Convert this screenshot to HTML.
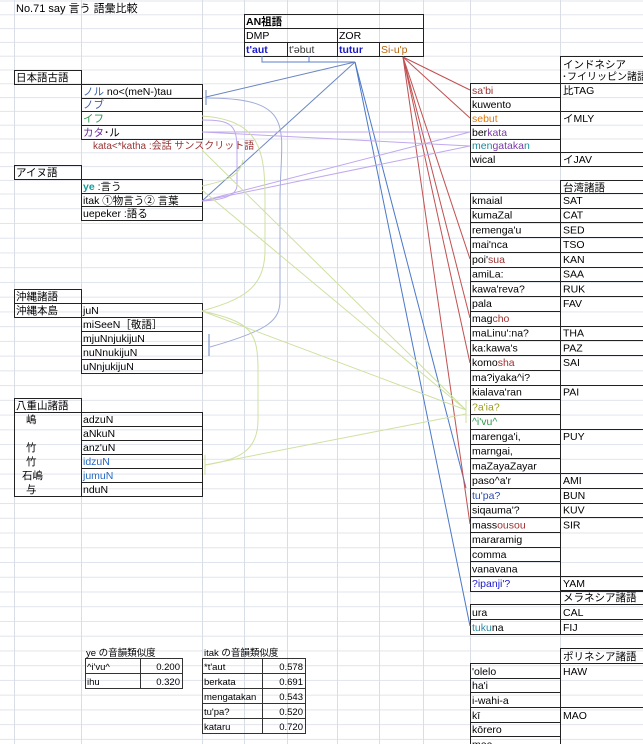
<!DOCTYPE html>
<html><head><meta charset="utf-8"><style>
html,body{margin:0;padding:0;background:#fff;}
svg{display:block;font-family:"Liberation Sans","Noto Sans CJK JP",sans-serif;}
</style></head><body>
<svg width="643" height="744" viewBox="0 0 643 744" xmlns="http://www.w3.org/2000/svg">
<defs>
<pattern id="hp" x="0" y="193.5" width="643" height="14.74" patternUnits="userSpaceOnUse">
<line x1="0" y1="0.5" x2="643" y2="0.5" stroke="#e0e4ec" stroke-width="1"/>
</pattern>
<pattern id="hp2" x="0" y="0.5" width="643" height="13.8" patternUnits="userSpaceOnUse">
<line x1="0" y1="0.5" x2="643" y2="0.5" stroke="#e0e4ec" stroke-width="1"/>
</pattern>
</defs>
<rect x="0" y="0" width="643" height="186" fill="url(#hp2)"/>
<rect x="0" y="186" width="643" height="558" fill="url(#hp)"/>
<g stroke="#d8dde6" stroke-width="1">
<line x1="14.5" y1="0" x2="14.5" y2="744"/><line x1="81.5" y1="0" x2="81.5" y2="744"/><line x1="202.5" y1="0" x2="202.5" y2="744"/><line x1="244.5" y1="0" x2="244.5" y2="744"/><line x1="287.5" y1="0" x2="287.5" y2="744"/><line x1="337.5" y1="0" x2="337.5" y2="744"/><line x1="379.5" y1="0" x2="379.5" y2="744"/><line x1="423.5" y1="0" x2="423.5" y2="744"/><line x1="470.5" y1="0" x2="470.5" y2="744"/><line x1="560.5" y1="0" x2="560.5" y2="744"/>
</g>
<text x="16" y="12" font-size="11">No.71 say 言う 語彙比較</text>

<!-- AN table -->
<g fill="none" stroke="#222" stroke-width="1">
<rect x="244.5" y="14.5" width="179" height="42"/>
<line x1="244" y1="28.5" x2="423" y2="28.5"/><line x1="244" y1="42.5" x2="423" y2="42.5"/>
<line x1="337.5" y1="28" x2="337.5" y2="56"/><line x1="287.5" y1="42" x2="287.5" y2="56"/><line x1="379.5" y1="42" x2="379.5" y2="56"/>
</g>
<g font-size="10.5">
<text x="246" y="25" font-weight="bold">AN祖語</text><text x="246" y="39">DMP</text><text x="339" y="39">ZOR</text>
<text x="246" y="53" fill="#1a1acc" font-weight="bold">t'aut</text><text x="289" y="53" fill="#333">t'əbut</text>
<text x="339" y="53" fill="#1a1acc" font-weight="bold">tutur</text><text x="381" y="53" fill="#b8660e">Si-u'p</text>
</g>

<!-- Japanese -->
<g fill="none" stroke="#222">
<rect x="14.5" y="70.5" width="67" height="14"/>
<rect x="81.5" y="84.5" width="121" height="55"/>
<line x1="81" y1="98.5" x2="202" y2="98.5"/><line x1="81" y1="111.5" x2="202" y2="111.5"/><line x1="81" y1="125.5" x2="202" y2="125.5"/>
<rect x="14.5" y="165.5" width="67" height="14"/>
<rect x="81.5" y="179.5" width="121" height="41"/>
<line x1="81" y1="193.5" x2="202" y2="193.5"/><line x1="81" y1="206.5" x2="202" y2="206.5"/>
</g>
<g font-size="10.5">
<text x="16" y="81">日本語古語</text>
<text x="83" y="95"><tspan fill="#3a5ea8">ノル</tspan>   no&lt;(meN-)tau</text>
<text x="83" y="108" fill="#3a5ea8">ノブ</text>
<text x="83" y="122" fill="#2a9a4a">イフ</text>
<text x="83" y="136" fill="#6a2a9a">カタ<tspan fill="#000">･ル</tspan></text>
<text x="93" y="149" fill="#993333" font-size="10">kata&lt;*katha :会話  サンスクリット語</text>
<text x="16" y="176">アイヌ語</text>
<text x="83" y="190"><tspan fill="#1a9a9a" font-weight="bold">ye</tspan>        :言う</text>
<text x="83" y="204">itak      ①物言う② 言葉</text>
<text x="83" y="217">uepeker     :語る</text>
</g>

<!-- Okinawa -->
<g fill="none" stroke="#222">
<rect x="14.5" y="289.5" width="67" height="28"/><line x1="14" y1="303.5" x2="81" y2="303.5"/>
<rect x="81.5" y="303.5" width="121" height="70"/>
<line x1="81" y1="317.5" x2="202" y2="317.5"/><line x1="81" y1="331.5" x2="202" y2="331.5"/><line x1="81" y1="345.5" x2="202" y2="345.5"/><line x1="81" y1="359.5" x2="202" y2="359.5"/>
<rect x="14.5" y="398.5" width="67" height="98"/><line x1="14" y1="412.5" x2="81" y2="412.5"/>
<rect x="81.5" y="412.5" width="121" height="84"/>
<line x1="81" y1="426.5" x2="202" y2="426.5"/><line x1="81" y1="440.5" x2="202" y2="440.5"/><line x1="81" y1="454.5" x2="202" y2="454.5"/><line x1="81" y1="468.5" x2="202" y2="468.5"/><line x1="81" y1="482.5" x2="202" y2="482.5"/>
</g>
<g font-size="10.5">
<text x="16" y="300">沖縄諸語</text><text x="16" y="314">沖縄本島</text>
<text x="83" y="314">juN</text><text x="83" y="328">miSeeN［敬語］</text><text x="83" y="342">mjuNnjukijuN</text><text x="83" y="356">nuNnukijuN</text><text x="83" y="370">uNnjukijuN</text>
<text x="16" y="409">八重山諸語</text>
<text x="26" y="423">嶋</text><text x="26" y="451">竹</text><text x="26" y="465">竹</text><text x="22" y="479">石嶋</text><text x="26" y="493">与</text>
<text x="83" y="423">adzuN</text><text x="83" y="437">aNkuN</text><text x="83" y="451">anz'uN</text>
<text x="83" y="465" fill="#2a6ac0">idzuN</text><text x="83" y="479" fill="#2a6ac0">jumuN</text><text x="83" y="493">nduN</text>
</g>

<!-- Indonesia -->
<g fill="none" stroke="#222">
<rect x="560.5" y="56.5" width="83" height="27"/>
<rect x="470.5" y="83.5" width="173" height="83"/><line x1="560.5" y1="83" x2="560.5" y2="166"/>
<line x1="470" y1="97.5" x2="560" y2="97.5"/><line x1="470" y1="111.5" x2="643" y2="111.5"/><line x1="470" y1="125.5" x2="560" y2="125.5"/><line x1="470" y1="139.5" x2="560" y2="139.5"/><line x1="470" y1="152.5" x2="643" y2="152.5"/>
</g>
<g font-size="10.5">
<text x="563" y="68">インドネシア</text><text x="562" y="80" font-size="10">･フイリッピン諸語</text>
<text x="472" y="94" fill="#993333">sa'bi</text><text x="472" y="108">kuwento</text><text x="472" y="122" fill="#e07a10">sebut</text>
<text x="472" y="136">ber<tspan fill="#7a3aaa">kata</tspan></text><text x="472" y="149" fill="#1a8a9a">men<tspan fill="#7a3aaa">gataka</tspan>n</text><text x="472" y="163">wical</text>
<text x="563" y="94">比TAG</text><text x="563" y="122">イMLY</text><text x="563" y="163">イJAV</text>
</g>

<!-- Taiwan -->
<g fill="none" stroke="#222">
<rect x="560.5" y="180.5" width="83" height="13"/>
<rect x="470.5" y="193.5" width="173" height="398"/><line x1="560.5" y1="193" x2="560.5" y2="591"/>
<line x1="470" x2="643" y1="208.5" y2="208.5"/><line x1="470" x2="643" y1="222.5" y2="222.5"/><line x1="470" x2="643" y1="237.5" y2="237.5"/><line x1="470" x2="643" y1="252.5" y2="252.5"/><line x1="470" x2="643" y1="267.5" y2="267.5"/><line x1="470" x2="643" y1="281.5" y2="281.5"/><line x1="470" x2="643" y1="296.5" y2="296.5"/><line x1="470" x2="560" y1="311.5" y2="311.5"/><line x1="470" x2="643" y1="326.5" y2="326.5"/><line x1="470" x2="643" y1="340.5" y2="340.5"/><line x1="470" x2="643" y1="355.5" y2="355.5"/><line x1="470" x2="560" y1="370.5" y2="370.5"/><line x1="470" x2="643" y1="385.5" y2="385.5"/><line x1="470" x2="560" y1="399.5" y2="399.5"/><line x1="470" x2="560" y1="414.5" y2="414.5"/><line x1="470" x2="643" y1="429.5" y2="429.5"/><line x1="470" x2="560" y1="444.5" y2="444.5"/><line x1="470" x2="560" y1="458.5" y2="458.5"/><line x1="470" x2="643" y1="473.5" y2="473.5"/><line x1="470" x2="643" y1="488.5" y2="488.5"/><line x1="470" x2="643" y1="503.5" y2="503.5"/><line x1="470" x2="643" y1="517.5" y2="517.5"/><line x1="470" x2="560" y1="532.5" y2="532.5"/><line x1="470" x2="560" y1="547.5" y2="547.5"/><line x1="470" x2="560" y1="561.5" y2="561.5"/><line x1="470" x2="643" y1="576.5" y2="576.5"/>
</g>
<g font-size="10.5">
<text x="563" y="191">台湾諸語</text>
<text x="472" y="204">kmaial</text><text x="563" y="204">SAT</text>
<text x="472" y="218.7">kumaZal</text><text x="563" y="218.7">CAT</text>
<text x="472" y="233.5">remenga'u</text><text x="563" y="233.5">SED</text>
<text x="472" y="248.2">mai'nca</text><text x="563" y="248.2">TSO</text>
<text x="472" y="263">poi'<tspan fill="#a03030">sua</tspan></text><text x="563" y="263">KAN</text>
<text x="472" y="277.7">amiLa:</text><text x="563" y="277.7">SAA</text>
<text x="472" y="292.4">kawa'reva?</text><text x="563" y="292.4">RUK</text>
<text x="472" y="307.2">pala</text><text x="563" y="307.2">FAV</text>
<text x="472" y="321.9">mag<tspan fill="#a03030">cho</tspan></text>
<text x="472" y="336.7">maLinu':na?</text><text x="563" y="336.7">THA</text>
<text x="472" y="351.4">ka:kawa's</text><text x="563" y="351.4">PAZ</text>
<text x="472" y="366.1">komo<tspan fill="#a03030">sha</tspan></text><text x="563" y="366.1">SAI</text>
<text x="472" y="380.9">ma?iyaka^i?</text>
<text x="472" y="395.6">kialava'ran</text><text x="563" y="395.6">PAI</text>
<text x="472" y="410.4" fill="#9a9a20">?a'ia?</text>
<text x="472" y="425.1" fill="#2a9a4a">^i'vu^</text>
<text x="472" y="439.8">marenga'i,</text><text x="563" y="439.8">PUY</text>
<text x="472" y="454.6">marngai,</text>
<text x="472" y="469.3">maZayaZayar</text>
<text x="472" y="484.1">paso^a'r</text><text x="563" y="484.1">AMI</text>
<text x="472" y="498.8" fill="#2a4ab0">tu'pa?</text><text x="563" y="498.8">BUN</text>
<text x="472" y="513.5">siqauma'?</text><text x="563" y="513.5">KUV</text>
<text x="472" y="528.3">mass<tspan fill="#a03030">ousou</tspan></text><text x="563" y="528.3">SIR</text>
<text x="472" y="543">mararamig</text>
<text x="472" y="557.8">comma</text>
<text x="472" y="572.5">vanavana</text>
<text x="472" y="587.2" fill="#1a1acc">?ipanji'?</text><text x="563" y="587.2">YAM</text>
</g>

<!-- Melanesia / Polynesia -->
<g fill="none" stroke="#222">
<rect x="560.5" y="590.5" width="83" height="14"/>
<rect x="470.5" y="604.5" width="173" height="30"/><line x1="560.5" y1="604" x2="560.5" y2="634"/><line x1="470" y1="619.5" x2="643" y2="619.5"/>
<rect x="560.5" y="648.5" width="83" height="15"/>
<rect x="470.5" y="663.5" width="173" height="90"/><line x1="560.5" y1="663" x2="560.5" y2="754"/>
<line x1="470" y1="678.5" x2="560" y2="678.5"/><line x1="470" y1="692.5" x2="560" y2="692.5"/><line x1="470" y1="707.5" x2="643" y2="707.5"/><line x1="470" y1="722.5" x2="560" y2="722.5"/><line x1="470" y1="736.5" x2="560" y2="736.5"/>
</g>
<g font-size="10.5">
<text x="563" y="601">メラネシア諸語</text>
<text x="472" y="616">ura</text><text x="563" y="616">CAL</text>
<text x="472" y="631"><tspan fill="#2a8aa0">tuku</tspan>na</text><text x="563" y="631">FIJ</text>
<text x="563" y="660">ポリネシア諸語</text>
<text x="472" y="675"> 'olelo</text><text x="563" y="675">HAW</text>
<text x="472" y="689">ha'i</text><text x="472" y="704">i-wahi-a</text>
<text x="472" y="719">kī</text><text x="563" y="719">MAO</text>
<text x="472" y="733">kōrero</text><text x="472" y="748">mea</text>
</g>

<!-- bottom tables -->
<g fill="none" stroke="#333">
<rect x="85.5" y="658.5" width="97" height="30"/><line x1="85" y1="673.5" x2="182" y2="673.5"/><line x1="140.5" y1="658" x2="140.5" y2="688"/>
<rect x="202.5" y="658.5" width="103" height="75"/><line x1="262.5" y1="658" x2="262.5" y2="733"/>
<line x1="202" y1="673.5" x2="305" y2="673.5"/><line x1="202" y1="688.5" x2="305" y2="688.5"/><line x1="202" y1="703.5" x2="305" y2="703.5"/><line x1="202" y1="718.5" x2="305" y2="718.5"/>
</g>
<g font-size="9.5">
<text x="86" y="656">ye     の音韻類似度</text>
<text x="87" y="670">^i'vu^</text><text x="180" y="670" text-anchor="end">0.200</text>
<text x="87" y="685">ihu</text><text x="180" y="685" text-anchor="end">0.320</text>
<text x="204" y="656">itak   の音韻類似度</text>
<text x="204" y="670">*t'aut</text><text x="303" y="670" text-anchor="end">0.578</text>
<text x="204" y="685">berkata</text><text x="303" y="685" text-anchor="end">0.691</text>
<text x="204" y="700">mengatakan</text><text x="303" y="700" text-anchor="end">0.543</text>
<text x="204" y="715">tu'pa?</text><text x="303" y="715" text-anchor="end">0.520</text>
<text x="204" y="730">kataru</text><text x="303" y="730" text-anchor="end">0.720</text>
</g>

<!-- connectors -->
<g fill="none" stroke-width="1">
<path d="M262 56 V62 H355 M309 56 V62" stroke="#5b7fc8"/>
<path d="M355 62 L206 97" stroke="#6a86c0"/>
<path d="M206 90 V105" stroke="#6a86c0"/>
<path d="M355 62 L202 201" stroke="#6a86c0"/>
<path d="M355 62 L466 488" stroke="#4a78c8"/>
<path d="M355 62 L470 626" stroke="#4a78c8"/>
<path d="M206 98 C300 98 280 130 280 200 V300 C280 320 270 330 210 347" stroke="#a0acd8"/>
<path d="M209 334 V356" stroke="#6a86c0"/>
<g stroke="#c05050">
<path d="M403 57 L470 90"/><path d="M403 57 L470 118"/><path d="M403 57 L470 259"/><path d="M403 57 L470 318"/><path d="M403 57 L470 363"/><path d="M403 57 L470 524"/>
</g>
<g stroke="#c0a8ee">
<path d="M202 132 L470 132"/><path d="M202 132 L470 146"/>
<path d="M202 201 L470 132"/><path d="M202 201 L470 146"/>
<path d="M202 120 C232 120 237 125 237 150 V185 C237 195 225 200 202 201"/>
</g>
<g stroke="#cfe0a0">
<path d="M202 116 C260 120 265 150 265 200 V250 C265 290 240 300 202 311"/>
<path d="M202 186 C230 180 240 175 243 160"/>
<path d="M202 190 L466 410"/>
<path d="M202 311 L466 410"/>
<path d="M202 311 C250 322 258 330 258 370 V420 C258 450 240 460 205 465"/>
<path d="M205 465 L466 414"/>
<path d="M205 455 V475"/><path d="M466 400 V423"/>
<path d="M202 150 L466 410"/>
</g>
</g>
</svg>
</body></html>
